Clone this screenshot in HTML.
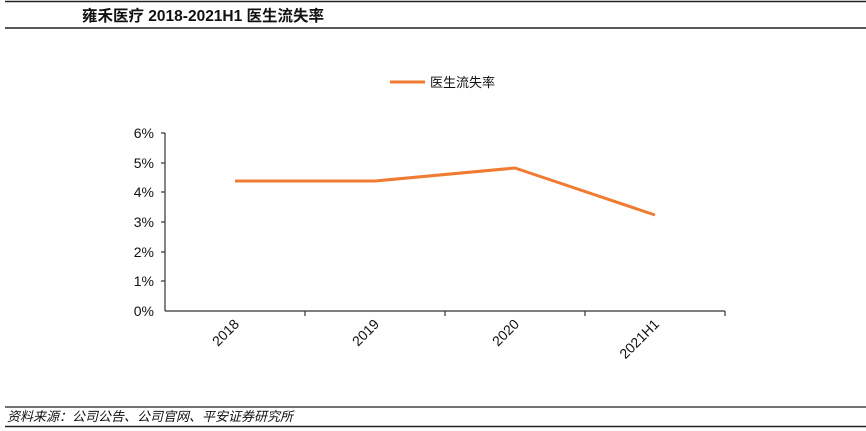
<!DOCTYPE html>
<html><head><meta charset="utf-8"><style>
body{margin:0;width:866px;height:431px;background:#fff;overflow:hidden}
</style></head><body>
<svg width="866" height="431" xmlns="http://www.w3.org/2000/svg" style="position:absolute;left:0;top:0">
<line x1="5" y1="1.5" x2="866" y2="1.5" stroke="#222" stroke-width="1.5"/>
<text x="82" y="21" font-family="Liberation Sans, Noto Sans CJK SC, sans-serif" font-size="15.5" font-weight="bold" fill="#111">雍禾医疗 2018-2021H1 医生流失率</text>
<line x1="5" y1="28" x2="866" y2="28" stroke="#222" stroke-width="1.5"/>
<line x1="390" y1="82" x2="425" y2="82" stroke="#F07B33" stroke-width="3"/>
<text x="430" y="87" font-family="Liberation Sans, Noto Sans CJK SC, sans-serif" font-size="13" fill="#111">医生流失率</text>
<g font-family="Liberation Sans, sans-serif" font-size="14" fill="#111" text-anchor="end">
<text x="154" y="138">6%</text><text x="154" y="168">5%</text><text x="154" y="197">4%</text>
<text x="154" y="227">3%</text><text x="154" y="257">2%</text><text x="154" y="286">1%</text><text x="154" y="316">0%</text>
</g>
<g stroke="#333" stroke-width="1.2">
<line x1="165" y1="133" x2="165" y2="311"/>
<line x1="165" y1="311" x2="725" y2="311"/>
<line x1="161" y1="133" x2="165" y2="133"/><line x1="161" y1="163" x2="165" y2="163"/>
<line x1="161" y1="192" x2="165" y2="192"/><line x1="161" y1="222" x2="165" y2="222"/>
<line x1="161" y1="252" x2="165" y2="252"/><line x1="161" y1="281" x2="165" y2="281"/>
<line x1="305" y1="311" x2="305" y2="316"/><line x1="445" y1="311" x2="445" y2="316"/>
<line x1="585" y1="311" x2="585" y2="316"/><line x1="725" y1="311" x2="725" y2="316"/>
</g>
<polyline points="235,181 375,181 515,168 655,215" fill="none" stroke="#F07B33" stroke-width="3" stroke-linejoin="round"/>
<g font-family="Liberation Sans, sans-serif" font-size="14" fill="#111" text-anchor="end">
<text transform="translate(240,325) rotate(-45)">2018</text>
<text transform="translate(380,325) rotate(-45)">2019</text>
<text transform="translate(520,325) rotate(-45)">2020</text>
<text transform="translate(660,325) rotate(-45)">2021H1</text>
</g>
<line x1="5" y1="407" x2="866" y2="407" stroke="#444" stroke-width="1.5"/>
<text x="7" y="421" font-family="Liberation Sans, Noto Sans CJK SC, sans-serif" font-size="13" font-style="italic" fill="#111">资料来源：公司公告、公司官网、平安证券研究所</text>
<line x1="5" y1="426.5" x2="866" y2="426.5" stroke="#222" stroke-width="1.5"/>
</svg>
</body></html>
